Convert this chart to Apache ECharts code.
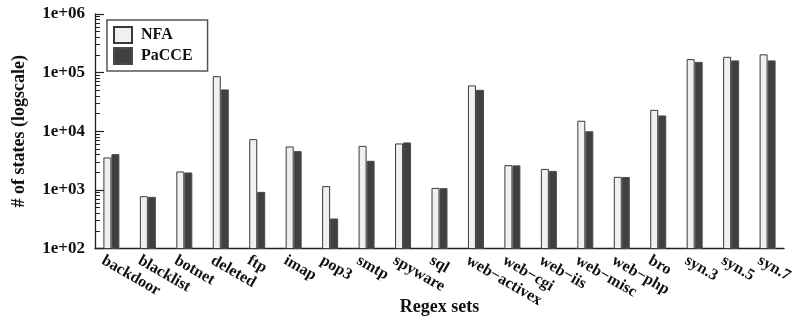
<!DOCTYPE html>
<html>
<head>
<meta charset="utf-8">
<script src="https://cdn.jsdelivr.net/npm/echarts@6/dist/echarts.min.js"></script>
<style>
html,body{margin:0;padding:0;background:#fff;}
#chart{width:793px;height:324px;}
</style>
</head>
<body>
<div id="chart"></div>
<script>
const categories = ['backdoor','blacklist','botnet','deleted','ftp','imap','pop3','smtp','spyware','sql','web\u2212activex','web\u2212cgi','web\u2212iis','web\u2212misc','web\u2212php','bro','syn.3','syn.5','syn.7'];
const nfaValues = [3570, 780, 2060, 87000, 7330, 5500, 1160, 5630, 6190, 1080, 60500, 2640, 2280, 15100, 1670, 23200, 170000, 186000, 205000];
const pacceValues = [4070, 760, 1980, 51700, 925, 4580, 325, 3130, 6440, 1070, 50900, 2620, 2110, 10000, 1660, 18600, 152600, 161600, 161600];
const yTickLabels = ['1e+02','1e+03','1e+04','1e+05','1e+06'];
const yMinorTicks = [];
for (let e = 2; e < 6; e++) { for (let m = 2; m <= 9; m++) { yMinorTicks.push(m * Math.pow(10, e)); } }

const FONT = 'Liberation Serif';
const chart = echarts.init(document.getElementById('chart'), null, {renderer: 'canvas'});
const catIdx = categories.map((c, i) => i);

chart.setOption({
  animation: false,
  backgroundColor: '#ffffff',
  textStyle: {fontFamily: FONT},
  grid: {left: 95, right: 9, top: 14, bottom: 75.5, outerBoundsMode: 'none', containLabel: false},
  legend: {
    left: 107, top: 20,
    orient: 'vertical',
    itemWidth: 18, itemHeight: 16, itemGap: 3,
    padding: [6, 15, 6, 6],
    borderColor: '#555', borderWidth: 1.5,
    icon: 'rect',
    textStyle: {fontFamily: FONT, fontWeight: 'bold', fontSize: 16, color: '#111', padding: [0, 0, 0, 4]},
    data: ['NFA', 'PaCCE']
  },
  xAxis: {
    type: 'value',
    min: -0.45, max: 18.45,
    name: 'Regex sets', nameLocation: 'middle', nameGap: 50, nameMoveOverlap: false,
    nameTextStyle: {fontFamily: FONT, fontWeight: 'bold', fontSize: 18, color: '#111'},
    axisLine: {show: true, onZero: false, lineStyle: {color: '#222', width: 1.3}},
    axisTick: {show: false},
    splitLine: {show: false},
    axisLabel: {
      customValues: catIdx,
      formatter: (v) => categories[Math.round(v)],
      rotate: -30, margin: 16,
      padding: [0, 0, 0, -10],
      fontFamily: FONT, fontWeight: 'bold', fontSize: 16, color: '#111',
      showMinLabel: true, showMaxLabel: true
    }
  },
  yAxis: [{
    type: 'log', logBase: 10, min: 100, max: 1000000,
    name: '# of states (logscale)', nameLocation: 'middle', nameGap: 67, nameRotate: 90, nameMoveOverlap: false,
    nameTextStyle: {fontFamily: FONT, fontWeight: 'bold', fontSize: 18, color: '#111'},
    axisLine: {show: true, onZero: false, lineStyle: {color: '#222', width: 1.3}},
    axisTick: {show: true, inside: true, length: 9, lineStyle: {color: '#222', width: 1.2}},
    splitLine: {show: false},
    axisLabel: {
      margin: 10,
      formatter: (v, i) => yTickLabels[i],
      fontFamily: FONT, fontWeight: 'bold', fontSize: 17, color: '#111'
    }
  }, {
    type: 'value', min: 2, max: 6, position: 'left', offset: 0,
    axisLine: {show: false, onZero: false},
    axisTick: {show: true, inside: true, length: 5, customValues: yMinorTicks.map(Math.log10), lineStyle: {color: '#222', width: 1}},
    axisLabel: {show: false},
    splitLine: {show: false}
  }],
  series: [{
    name: 'NFA', type: 'bar',
    data: nfaValues.map((v, i) => [i, v]),
    barWidth: 8, barGap: '0%',
    itemStyle: {color: '#f0f0f0', borderColor: '#3a3a3a', borderWidth: 1}
  }, {
    name: 'PaCCE', type: 'bar',
    data: pacceValues.map((v, i) => [i, v]),
    barWidth: 8, barGap: '0%',
    itemStyle: {color: '#404040', borderColor: '#4a4a4a', borderWidth: 1}
  }]
});
</script>
</body>
</html>
